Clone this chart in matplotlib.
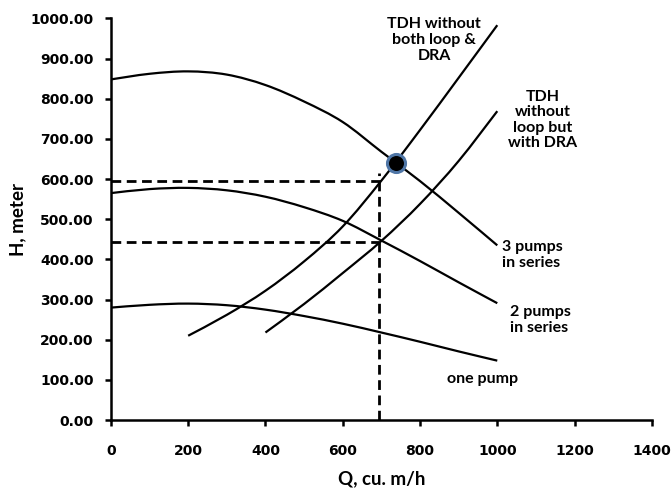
import matplotlib
matplotlib.use("Agg")
import matplotlib.pyplot as plt
import numpy as np
from matplotlib.path import Path
from matplotlib.patches import PathPatch

# ---- data ----
q_pump = [0, 100, 200, 300, 400, 500, 600, 700, 800, 900, 1000]
h_3pumps = [848, 862, 868, 860, 834, 793, 742, 668, 595, 516, 435]
h_2pumps = [565, 575, 578, 572, 556, 530, 496, 447, 396, 343, 291]
h_1pump = [280, 287, 290, 286, 275, 259, 240, 218, 195, 171, 148]

q_tdh1 = [200, 300, 400, 500, 600, 700, 800, 900, 1000]
h_tdh1 = [210, 262, 322, 395, 482, 596, 722, 852, 983]

q_tdh2 = [400, 500, 600, 700, 800, 900, 1000]
h_tdh2 = [218, 289, 366, 446, 538, 645, 769]

q_op = 695
h_op_high = 595
h_op_low = 443
h_vert_top = 615
op_point = (737, 639)

xticks = [0, 200, 400, 600, 800, 1000, 1200, 1400]
yticks = [0, 100, 200, 300, 400, 500, 600, 700, 800, 900, 1000]


def smooth_path(x, y):
    """Catmull-Rom style smoothing (like Excel's smoothed line) as Bezier path."""
    p = np.column_stack([x, y]).astype(float)
    n = len(p)
    verts = [p[0]]
    codes = [Path.MOVETO]
    for i in range(n - 1):
        p0 = p[i - 1] if i > 0 else p[i]
        p1 = p[i]
        p2 = p[i + 1]
        p3 = p[i + 2] if i + 2 < n else p[i + 1]
        c1 = p1 + (p2 - p0) / 6.0
        c2 = p2 - (p3 - p1) / 6.0
        verts += [c1, c2, p2]
        codes += [Path.CURVE4] * 3
    return Path(verts, codes)


# ---- figure ----
fig = plt.figure(figsize=(6.72, 4.96), dpi=100)
ax = fig.add_axes([0.165, 0.153, 0.805, 0.810])

lw = 1.6
for q, h in [(q_pump, h_3pumps), (q_pump, h_2pumps), (q_pump, h_1pump),
             (q_tdh1, h_tdh1), (q_tdh2, h_tdh2)]:
    ax.add_patch(PathPatch(smooth_path(q, h), fill=False, edgecolor="black",
                           lw=lw, capstyle="butt"))

dash = dict(color="black", lw=2.0, dashes=(3.5, 2.0))
ax.plot([0, q_op + 8], [h_op_high, h_op_high], **dash)
ax.plot([0, q_op], [h_op_low, h_op_low], **dash)
ax.plot([q_op, q_op], [0, h_vert_top], **dash)

ax.plot([op_point[0]], [op_point[1]], marker="o", ms=13, mfc="black",
        mec="#4f76a6", mew=2.2, zorder=5)

ax.set_xlim(0, 1400)
ax.set_ylim(0, 1000)
ax.set_xticks(xticks)
ax.set_yticks(yticks)
ax.set_yticklabels([f"{v:.2f}" for v in yticks])
for s in ["top", "right"]:
    ax.spines[s].set_visible(False)
for s in ["left", "bottom"]:
    ax.spines[s].set_linewidth(1.8)
ax.tick_params(axis="both", direction="out", width=1.8, length=4.5)
ax.tick_params(axis="y", pad=8)
ax.tick_params(axis="x", pad=13)
for lab in ax.get_xticklabels() + ax.get_yticklabels():
    lab.set_fontfamily("DejaVu Sans")
    lab.set_fontweight("bold")
    lab.set_fontsize(10)

tf = dict(family=["Lato", "DejaVu Sans"], fontweight="bold", fontsize=13.5)
ax.set_xlabel("Q, cu. m/h", **tf)
ax.set_ylabel("H, meter", **tf)
ax.xaxis.set_label_coords((381 - 111) / (652 - 111), -(478 - 420) / 402, transform=None) if False else None
ax.xaxis.set_label_coords(0.5, -0.145)
ax.yaxis.set_label_coords(-0.172, 0.5)
ax.xaxis.label.set_va("center")
ax.yaxis.label.set_va("center")

af = dict(family=["Lato", "DejaVu Sans"], fontweight="bold", fontsize=11.5,
          linespacing=1.15)
fig.text(434 / 672, 1 - 40 / 496, "TDH without\nboth loop &\nDRA", ha="center", va="center", **af)
fig.text(543 / 672, 1 - 120 / 496, "TDH\nwithout\nloop but\nwith DRA", ha="center", va="center", **af)
fig.text(502 / 672, 1 - 255 / 496, "3 pumps\nin series", ha="left", va="center", **af)
fig.text(510 / 672, 1 - 320 / 496, "2 pumps\nin series", ha="left", va="center", **af)
fig.text(447 / 672, 1 - 379 / 496, "one pump", ha="left", va="center", **af)

fig.savefig("out.png", dpi=100)
